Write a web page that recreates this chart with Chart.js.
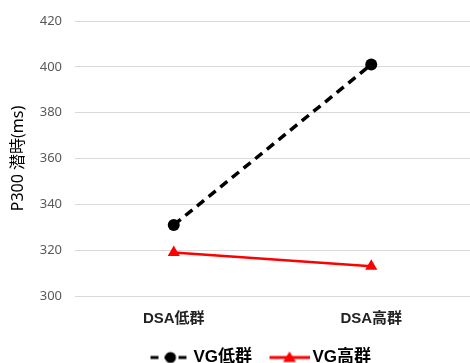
<!DOCTYPE html>
<html lang="ja">
<head>
    <meta charset="UTF-8">
    <title>P300 潜時</title>
    <script src="https://cdn.jsdelivr.net/npm/chart.js"></script>
    <style>
        html, body { margin: 0; padding: 0; background: #fff; }
        #chart-container { width: 470px; height: 363px; }
    </style>
</head>
<body>
    <div id="chart-container">
        <canvas id="p300Chart" width="470" height="363"></canvas>
    </div>

    <script>
        // data
        const categories = ['DSA低群', 'DSA高群'];
        const vgLow = [331, 401];
        const vgHigh = [319, 313];
        const seriesNames = ['VG低群', 'VG高群'];

        const FONT = '"Noto Sans", "Noto Sans CJK JP", sans-serif';
        const BOLD_FONT = '"Liberation Sans", "Noto Sans CJK JP", sans-serif';

        // legend samples: line with marker in the middle.
        // canvas is 11px wider than the legend box so the line runs close to the text
        const BOX_W = 48;
        function makeSample(color, dashed, marker) {
            const c = document.createElement('canvas');
            c.width = BOX_W + 11; c.height = 16;
            const g = c.getContext('2d');
            const x0 = c.width - 40, mid = c.width - 20;
            g.strokeStyle = color;
            g.fillStyle = color;
            g.lineWidth = 3;
            if (dashed) g.setLineDash([8, 6]);
            g.beginPath();
            g.moveTo(x0, 8);
            g.lineTo(c.width, 8);
            g.stroke();
            g.setLineDash([]);
            g.beginPath();
            if (marker === 'circle') {
                g.arc(mid, 8, 5.5, 0, Math.PI * 2);
            } else {
                g.moveTo(mid, 2);
                g.lineTo(mid + 6.5, 12.5);
                g.lineTo(mid - 6.5, 12.5);
                g.closePath();
            }
            g.fill();
            return c;
        }
        const samples = [makeSample('#000', true, 'circle'), makeSample('#ff0000', false, 'triangle')];

        // nudge the legend to where it sits in the original figure
        const shiftLegend = {
            id: 'shiftLegend',
            afterLayout(chart) {
                chart.legend.left += 33;
                chart.legend.top += 11;
                chart.legend.bottom += 11;
            }
        };

        new Chart(document.getElementById('p300Chart'), {
            type: 'line',
            data: {
                labels: categories,
                datasets: [{
                    label: seriesNames[0],
                    data: vgLow,
                    borderColor: '#000',
                    backgroundColor: '#000',
                    borderWidth: 3.5,
                    borderDash: [9, 6],
                    pointStyle: 'circle',
                    pointRadius: 6,
                    pointBorderWidth: 0
                }, {
                    label: seriesNames[1],
                    data: vgHigh,
                    borderColor: '#ff0000',
                    backgroundColor: '#ff0000',
                    borderWidth: 2.5,
                    pointStyle: 'triangle',
                    pointRadius: 7,
                    pointBorderWidth: 0
                }]
            },
            options: {
                responsive: false,
                animation: false,
                layout: { autoPadding: false, padding: { top: 21, right: -5, left: 0, bottom: -2 } },
                scales: {
                    x: {
                        offset: true,
                        afterFit(scale) { scale.paddingLeft = 0; scale.paddingRight = 0; },
                        grid: { display: false },
                        border: { display: false },
                        ticks: {
                            color: '#222',
                            padding: 6,
                            font: { family: BOLD_FONT, size: 15, weight: 'bold' }
                        }
                    },
                    y: {
                        min: 300,
                        max: 420,
                        afterFit(scale) { scale.width = 75; },
                        grid: { color: '#d9d9d9', drawTicks: false },
                        border: { display: false },
                        ticks: {
                            stepSize: 20,
                            color: '#595959',
                            padding: 13,
                            font: { family: FONT, size: 13 }
                        },
                        title: {
                            display: true,
                            text: 'P300 潜時(ms)',
                            color: '#000',
                            padding: { top: 9, bottom: 0 },
                            font: { family: FONT, size: 16 }
                        }
                    }
                },
                plugins: {
                    legend: {
                        position: 'bottom',
                        labels: {
                            usePointStyle: true,
                            pointStyleWidth: BOX_W,
                            padding: 4,
                            color: '#000',
                            font: { family: BOLD_FONT, size: 17, weight: 'bold' },
                            generateLabels(chart) {
                                return chart.data.datasets.map((ds, i) => ({
                                    text: ds.label,
                                    pointStyle: samples[i],
                                    fillStyle: ds.borderColor,
                                    strokeStyle: ds.borderColor,
                                    fontColor: '#000',
                                    lineWidth: 0,
                                    hidden: false,
                                    datasetIndex: i
                                }));
                            }
                        }
                    },
                    tooltip: { enabled: false }
                }
            },
            plugins: [shiftLegend]
        });
    </script>
</body>
</html>
